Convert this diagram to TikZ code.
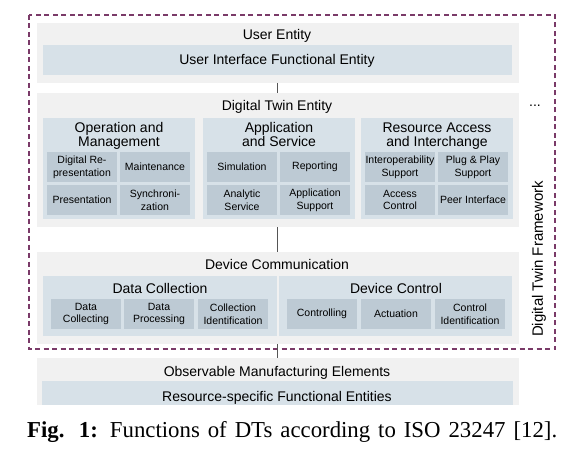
\documentclass[tikz,border=0pt]{standalone}
\usepackage{fontspec}
\setmainfont{Liberation Sans}
\newfontfamily\capfont{Liberation Serif}
\definecolor{outerc}{HTML}{F1F1F1}
\definecolor{midc}{HTML}{D7E1E8}
\definecolor{smallc}{HTML}{BDCAD4}
\definecolor{framec}{HTML}{7A3A68}
\definecolor{linec}{HTML}{555555}
\begin{document}
\begin{tikzpicture}[x=1pt,y=-1pt,
  outerbox/.style={fill=outerc,draw=none,anchor=north west,inner sep=0pt,outer sep=0pt},
  midbox/.style={fill=midc,draw=none,anchor=north west,inner sep=0pt,outer sep=0pt},
  smallbox/.style={fill=smallc,draw=none,anchor=north west,inner sep=0pt,outer sep=0pt,
    minimum width=70pt,minimum height=30pt,align=center,
    font=\fontsize{10.5}{12.7}\selectfont},
  title/.style={font=\fontsize{14}{14}\selectfont,align=center,inner sep=0pt,anchor=base},
  conn/.style={draw=linec,line width=1pt}]
\useasboundingbox (0,0) rectangle (583,457);
% dashed frame
\draw[framec,line width=1.1pt,dash pattern=on 5pt off 3.5pt] (29,15) rectangle (555,349);
% User Entity
\node[outerbox,minimum width=482pt,minimum height=60pt] (ue) at (37,23) {};
\node[title] (uet) at (277,40) {User Entity};
\node[midbox,minimum width=469pt,minimum height=30pt] (uif) at (43,45) {};
\node[title] (uift) at (277,65) {User Interface Functional Entity};
% Digital Twin Entity
\node[outerbox,minimum width=482pt,minimum height=134pt] (dte) at (37,93) {};
\node[title] (dtet) at (277,111) {Digital Twin Entity};
\node[midbox,minimum width=152pt,minimum height=101pt] (om) at (43,118) {};
\node[midbox,minimum width=152pt,minimum height=101pt] (as) at (203,118) {};
\node[midbox,minimum width=152pt,minimum height=101pt] (ra) at (361,118) {};
\node[title] (omt) at (119,147) {Operation and\\Management};
\node[title] (ast) at (279,147) {Application\\and Service};
\node[title] (rat) at (437,147) {Resource Access\\and Interchange};
\node[smallbox] (dr) at (47,152) {Digital Re-\\presentation};
\node[smallbox] (mt) at (120,152) {Maintenance};
\node[smallbox] (pr) at (47,185) {Presentation};
\node[smallbox] (sy) at (120,185) {Synchroni-\\zation};
\node[smallbox] (si) at (207,152) {Simulation};
\node[smallbox] (rp) at (280,152) {Reporting};
\node[smallbox] (an) at (207,185) {Analytic\\Service};
\node[smallbox] (ap) at (280,185) {Application\\Support};
\node[smallbox] (io) at (365,152) {Interoperability\\Support};
\node[smallbox] (pp) at (438,152) {Plug \& Play\\Support};
\node[smallbox] (ac) at (365,185) {Access\\Control};
\node[smallbox] (pi) at (438,185) {Peer Interface};
% Device Communication
\node[outerbox,minimum width=482pt,minimum height=92pt] (dc) at (37,252) {};
\node[title] (dct) at (277,269) {Device Communication};
\node[midbox,minimum width=234pt,minimum height=60pt] (dcol) at (43,276) {};
\node[midbox,minimum width=233pt,minimum height=60pt] (dctl) at (279,276) {};
\node[title] (dcolt) at (160,293) {Data Collection};
\node[title] (dctlt) at (396,293) {Device Control};
\node[smallbox] (dcg) at (51,299) {Data\\Collecting};
\node[smallbox] (dpr) at (124,299) {Data\\Processing};
\node[smallbox] (cid) at (198,299) {Collection\\Identification};
\node[smallbox] (ctl) at (287,299) {Controlling};
\node[smallbox] (act) at (361,299) {Actuation};
\node[smallbox] (cti) at (435,299) {Control\\Identification};
% Observable Manufacturing Elements
\node[outerbox,minimum width=482pt,minimum height=47pt] (ome) at (37,358) {};
\node[title] (omet) at (277,376) {Observable Manufacturing Elements};
\node[midbox,minimum width=471pt,minimum height=24pt] (rsf) at (42,381) {};
\node[title] (rsft) at (277,401) {Resource-specific Functional Entities};
% connectors
\draw[conn] (ue.south -| 277,0) -- (dte.north -| 277,0);
\draw[conn] (dte.south -| 277,0) -- (dc.north -| 277,0);
\draw[conn] (dc.south -| 277,0) -- (ome.north -| 277,0);
% side labels
\node[font=\fontsize{14}{14}\selectfont,inner sep=0pt] (dots) at (535,106) {...};
\node[font=\fontsize{15}{15}\selectfont,rotate=90,inner sep=0pt] (dtf) at (539,259) {Digital Twin Framework};
% caption
\node[font=\capfont\fontsize{22.8}{23}\selectfont,inner sep=0pt,anchor=base west] (cap) at (27,437) {\makebox[530pt][s]{\textbf{Fig. 1:} Functions of DTs according to ISO 23247 [12].}};
\end{tikzpicture}
\end{document}
